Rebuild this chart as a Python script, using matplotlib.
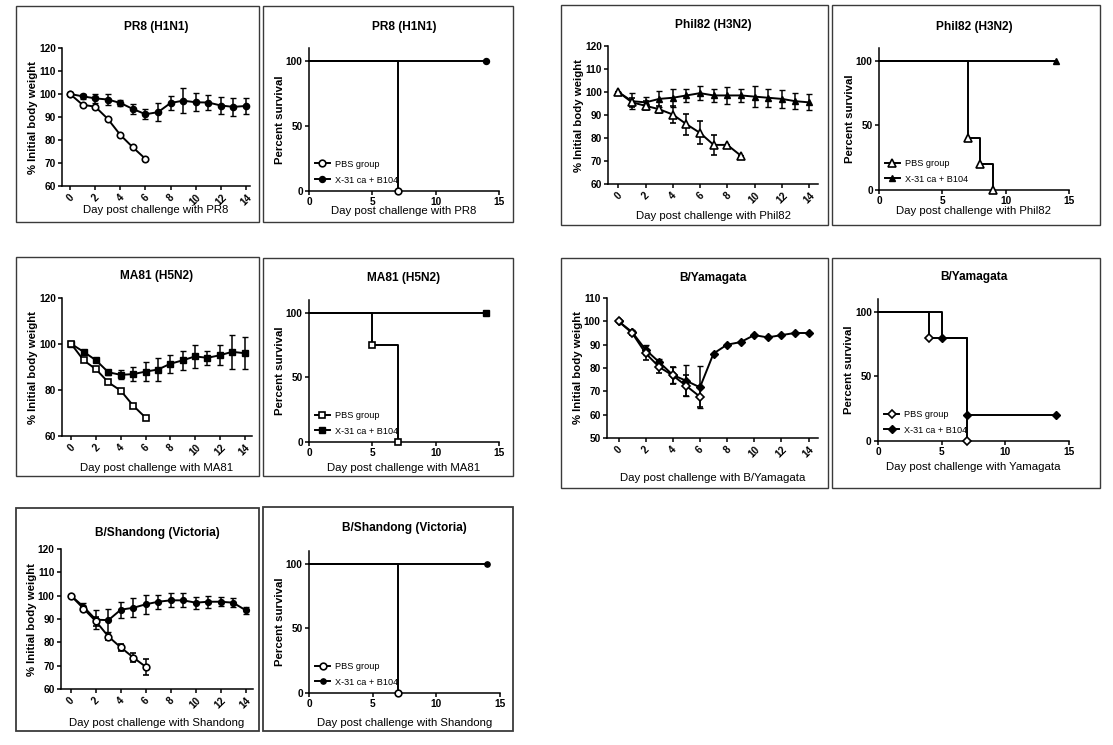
import matplotlib
matplotlib.use('Agg')
import matplotlib.pyplot as plt
from matplotlib.patches import Rectangle
from matplotlib.lines import Line2D

plt.rcParams['font.family'] = ['Liberation Sans', 'DejaVu Sans']

# ---------------- data ----------------
days = list(range(15))
legend_labels = ["PBS group", "X-31 ca + B104"]

# body weight (% initial) -- PBS group and X-31 ca + B104 group
pr8_pbs = [100, 95.3, 94.5, 89.2, 82.2, 76.8, 71.8]
pr8_vac = [100, 99, 98.1, 97.6, 96.1, 93.5, 91.2, 92.1, 96.1, 97.1, 96.4, 96.3, 95, 94.4, 94.8]
pr8_vac_err = [0, 1, 2, 2.4, 1.4, 2.2, 2.2, 4, 3, 5.5, 4, 3.4, 3.7, 4, 3.5]

phil_pbs = [100, 95.5, 94, 92.5, 90.2, 86, 82.2, 77, 77, 72.3]
phil_pbs_err = [0, 2, 2, 1.5, 3.5, 4.5, 5, 4.5, 0, 0]
phil_vac = [100, 96, 95.5, 97, 97.5, 98.5, 99.5, 98.5, 98.5, 98.5, 98, 97.5, 97, 96, 95.5]
phil_vac_err = [0, 3.5, 2.5, 3.5, 4, 3, 3, 3, 3.5, 3, 4.5, 4, 4, 3.5, 3.5]

ma81_pbs = [100, 92.9, 89, 83.3, 79.7, 73.2, 68]
ma81_vac = [100, 96.6, 92.9, 87.7, 86.6, 86.9, 88, 88.9, 91.4, 92.9, 94.6, 94, 95.1, 96.6, 96]
ma81_vac_err = [0, 0.5, 0.5, 1, 2, 3.2, 4, 4.8, 4, 4, 5, 3, 4.3, 7.5, 7]

yam_pbs = [100, 95, 86.3, 80.4, 76.8, 72.3, 67.7]
yam_pbs_err = [0, 1, 3, 2.5, 3.5, 4.5, 4.5]
yam_vac = [100, 95.4, 87.8, 82.5, 77, 74.5, 71.7, 86.2, 90, 91.1, 94.1, 93.1, 94.1, 95, 95]
yam_vac_err = [0, 1, 2.2, 1.5, 3.5, 6.7, 9, 0, 0, 0, 0, 0, 0, 0, 0]

sha_pbs = [100, 94.5, 89, 82.5, 77.8, 73.5, 69.5]
sha_pbs_err = [0, 1, 2, 1.5, 1.5, 2, 3.5]
sha_vac = [100, 95.3, 89.7, 89.5, 94, 94.8, 96.3, 97.4, 98, 98, 97, 97.4, 97.4, 97, 93.8]
sha_vac_err = [0, 1.5, 4, 5, 3.5, 4, 4, 3, 3, 3, 2.5, 2.5, 2, 2, 1.5]

# survival (Kaplan-Meier steps)
pr8_surv_pbs_t, pr8_surv_pbs = [0, 7], [100, 0]
pr8_surv_vac_t, pr8_surv_vac = [0, 14], [100, 100]
phil_surv_pbs_t, phil_surv_pbs = [0, 7, 8, 9], [100, 40, 20, 0]
phil_surv_vac_t, phil_surv_vac = [0, 14], [100, 100]
ma81_surv_pbs_t, ma81_surv_pbs = [0, 5, 7], [100, 75, 0]
ma81_surv_vac_t, ma81_surv_vac = [0, 14], [100, 100]
yam_surv_pbs_t, yam_surv_pbs = [0, 4, 7], [100, 80, 0]
yam_surv_vac_t, yam_surv_vac = [0, 5, 7, 14], [100, 80, 20, 20]
sha_surv_pbs_t, sha_surv_pbs = [0, 7], [100, 0]
sha_surv_vac_t, sha_surv_vac = [0, 14], [100, 100]

# ---------------- layout helpers ----------------
W, H = 1113, 745
fig = plt.figure(figsize=(W / 100, H / 100), dpi=100)
PT = 0.72  # points per pixel at dpi 100
LW = 1.4
TICKFS = 7.3
TITLEFS = 8.6
LABELFS = 8.2


def frame(l, t, r, b, lw=1.0):
    fig.add_artist(Rectangle((l / W, 1 - b / H), (r - l) / W, (b - t) / H,
                             transform=fig.transFigure, fill=False,
                             ec='#3a3a3a', lw=lw))


def make_axes(l, t, r, b):
    ax = fig.add_axes([l / W, 1 - b / H, (r - l) / W, (b - t) / H])
    for s in ('top', 'right'):
        ax.spines[s].set_visible(False)
    for s in ('left', 'bottom'):
        ax.spines[s].set_linewidth(1.1)
    ax.tick_params(length=3, width=1.1, pad=1.5, labelsize=TICKFS)
    ax.patch.set_alpha(0)
    return ax


def labels(ax, title, xlabel, ylabel, t_off, x_off, y_off=29):
    ax.annotate(title, xy=(0.5, 1), xycoords='axes fraction',
                xytext=(0, t_off * PT), textcoords='offset points',
                ha='center', va='center', fontsize=TITLEFS, fontweight='bold')
    ax.annotate(xlabel, xy=(0.5, 0), xycoords='axes fraction',
                xytext=(0, -x_off * PT), textcoords='offset points',
                ha='center', va='center', fontsize=LABELFS)
    ax.annotate(ylabel, xy=(0, 0.5), xycoords='axes fraction',
                xytext=(-y_off * PT, 0), textcoords='offset points',
                ha='center', va='center', rotation=90,
                fontsize=LABELFS, fontweight='bold')


def weight_panel(rect, xlim, ylim, yticks, pbs, pbs_err, vac, vac_err,
                 marker, ms_open, ms_fill, title, xlabel, t_off, x_off):
    ax = make_axes(*rect)
    d_pbs = days[:len(pbs)]
    ax.errorbar(d_pbs, pbs, yerr=pbs_err, color='black', lw=LW, marker=marker,
                ms=ms_open, mfc='white', mec='black', mew=1.2,
                capsize=2.2, elinewidth=1.1, capthick=1.1, zorder=3, clip_on=False)
    ax.errorbar(days, vac, yerr=vac_err, color='black', lw=LW, marker=marker,
                ms=ms_fill, mfc='black', mec='black', mew=1.0,
                capsize=2.2, elinewidth=1.1, capthick=1.1, zorder=2, clip_on=False)
    ax.set_xlim(*xlim)
    ax.set_ylim(*ylim)
    ax.set_yticks(yticks)
    ax.set_xticks(range(0, 15, 2))
    ax.set_xticklabels([str(v) for v in range(0, 15, 2)], rotation=45,
                       ha='center', va='top', fontweight='bold', fontsize=TICKFS)
    ax.set_yticklabels([str(v) for v in yticks], fontweight='bold', fontsize=TICKFS)
    labels(ax, title, xlabel, "% Initial body weight", t_off, x_off)
    return ax


def survival_panel(rect, pbs_t, pbs_s, vac_t, vac_s, marker, ms_open, ms_fill,
                   title, xlabel, t_off, x_off):
    ax = make_axes(*rect)
    ax.step(vac_t, vac_s, where='post', color='black', lw=LW, zorder=2, clip_on=False)
    ax.step(pbs_t, pbs_s, where='post', color='black', lw=LW, zorder=3, clip_on=False)
    ax.plot(vac_t[1:], vac_s[1:], ls='none', marker=marker, ms=ms_fill,
            mfc='black', mec='black', zorder=4, clip_on=False)
    ax.plot(pbs_t[1:], pbs_s[1:], ls='none', marker=marker, ms=ms_open,
            mfc='white', mec='black', mew=1.2, zorder=5, clip_on=False)
    ax.set_xlim(0, 15)
    ax.set_ylim(0, 110)
    ax.set_xticks([0, 5, 10, 15])
    ax.set_yticks([0, 50, 100])
    ax.set_xticklabels(['0', '5', '10', '15'], fontweight='bold', fontsize=TICKFS)
    ax.set_yticklabels(['0', '50', '100'], fontweight='bold', fontsize=TICKFS)
    handles = [Line2D([], [], color='black', lw=LW, marker=marker, ms=ms_open,
                      mfc='white', mec='black', mew=1.2),
               Line2D([], [], color='black', lw=LW, marker=marker, ms=ms_fill,
                      mfc='black', mec='black')]
    ax.legend(handles, legend_labels, loc='lower left', bbox_to_anchor=(0.03, 0.045),
              frameon=False, fontsize=6.6, handlelength=1.7, handletextpad=0.5,
              labelspacing=0.75, borderpad=0, borderaxespad=0)
    labels(ax, title, xlabel, "Percent survival", t_off, x_off)
    return ax


# ---------------- frames ----------------
frame(16, 6, 259, 222)
frame(263, 6, 513, 222)
frame(561, 5, 828, 225)
frame(832, 5, 1100, 225)
frame(16, 257, 259, 476)
frame(263, 258, 513, 476)
frame(561, 258, 828, 488)
frame(832, 258, 1100, 488)
frame(16, 508, 259, 731, lw=1.3)
frame(263, 507, 513, 731, lw=1.3)

# ---------------- panels ----------------
weight_panel((62, 48, 250, 186), (-0.64, 14.32), (60, 120), [60, 70, 80, 90, 100, 110, 120],
             pr8_pbs, None, pr8_vac, pr8_vac_err, 'o', 4.6, 4.5,
             "PR8 (H1N1)", "Day post challenge with PR8", 21, 24)
survival_panel((309, 48, 499, 191), pr8_surv_pbs_t, pr8_surv_pbs,
               pr8_surv_vac_t, pr8_surv_vac, 'o', 4.8, 4.3,
               "PR8 (H1N1)", "Day post challenge with PR8", 21, 20)

weight_panel((608, 46, 818, 184), (-0.76, 14.66), (60, 120), [60, 70, 80, 90, 100, 110, 120],
             phil_pbs, phil_pbs_err, phil_vac, phil_vac_err, '^', 5.3, 4.8,
             "Phil82 (H3N2)", "Day post challenge with Phil82", 21, 32)
survival_panel((879, 48, 1069, 190), phil_surv_pbs_t, phil_surv_pbs,
               phil_surv_vac_t, phil_surv_vac, '^', 5.3, 4.8,
               "Phil82 (H3N2)", "Day post challenge with Phil82", 21, 21)

weight_panel((62, 298, 252, 436), (-0.75, 14.6), (60, 120), [60, 80, 100, 120],
             ma81_pbs, None, ma81_vac, ma81_vac_err, 's', 4.8, 4.5,
             "MA81 (H5N2)", "Day post challenge with MA81", 21.5, 32)
survival_panel((309, 300, 499, 442), ma81_surv_pbs_t, ma81_surv_pbs,
               ma81_surv_vac_t, ma81_surv_vac, 's', 5.0, 4.5,
               "MA81 (H5N2)", "Day post challenge with MA81", 22, 26)

weight_panel((607, 298, 818, 438), (-0.85, 14.7), (50, 110), [50, 60, 70, 80, 90, 100, 110],
             yam_pbs, yam_pbs_err, yam_vac, yam_vac_err, 'D', 4.0, 3.6,
             "B/Yamagata", "Day post challenge with B/Yamagata", 20, 40)
survival_panel((878, 299, 1069, 441), yam_surv_pbs_t, yam_surv_pbs,
               yam_surv_vac_t, yam_surv_vac, 'D', 4.0, 3.8,
               "B/Yamagata", "Day post challenge with Yamagata", 22, 26)

weight_panel((61, 549, 253, 689), (-0.8, 14.6), (60, 120), [60, 70, 80, 90, 100, 110, 120],
             sha_pbs, sha_pbs_err, sha_vac, sha_vac_err, 'o', 4.8, 4.2,
             "B/Shandong (Victoria)", "Day post challenge with Shandong", 16, 34)
survival_panel((309, 551, 500, 693), sha_surv_pbs_t, sha_surv_pbs,
               sha_surv_vac_t, sha_surv_vac, 'o', 4.8, 3.8,
               "B/Shandong (Victoria)", "Day post challenge with Shandong", 22.5, 30)

fig.savefig('out.png', dpi=100)
